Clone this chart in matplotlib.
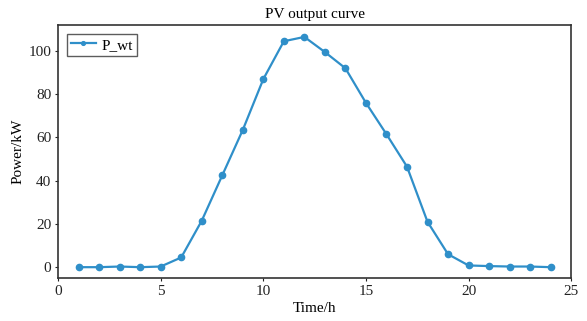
import numpy as np
import matplotlib
matplotlib.use('Agg')
import matplotlib.pyplot as plt

plt.rcParams['font.family'] = ['Liberation Serif', 'DejaVu Serif']

hours = list(range(1, 25))
p_wt = [0, 0, 0.3, 0, 0.3, 4.5, 21.5, 42.5, 63.5, 87, 104.5, 106.5,
        99.5, 92, 76, 61.5, 46.5, 21, 6, 0.8, 0.5, 0.3, 0.3, 0]

fig = plt.figure(figsize=(5.87, 3.21), dpi=100)
ax = fig.add_axes([0.099, 0.134, 0.874, 0.788])

ax.plot(hours, p_wt, color='#2f8fc9', marker='o', markersize=4.5, linewidth=1.6, label='P_wt')

ax.set_xlim(0, 25)
ax.set_ylim(-5, 112)
ax.set_xticks([0, 5, 10, 15, 20, 25])
ax.set_yticks([0, 20, 40, 60, 80, 100])
ax.tick_params(direction='out', length=2, width=0.8, labelsize=11, colors='#222222', pad=3)
for s in ax.spines.values():
    s.set_linewidth(1.2)
    s.set_color('#333333')

ax.set_title('PV output curve', fontsize=11, pad=5)
ax.set_xlabel('Time/h', fontsize=11, labelpad=3)
ax.set_ylabel('Power/kW', fontsize=11, labelpad=3)
leg = ax.legend(loc='upper left', fontsize=11, fancybox=False, edgecolor='#333333',
                handlelength=1.6, borderpad=0.25, handletextpad=0.4, markerscale=0.6,
                borderaxespad=0.6)
leg.get_frame().set_linewidth(1.0)

fig.savefig('out.png', dpi=100)
